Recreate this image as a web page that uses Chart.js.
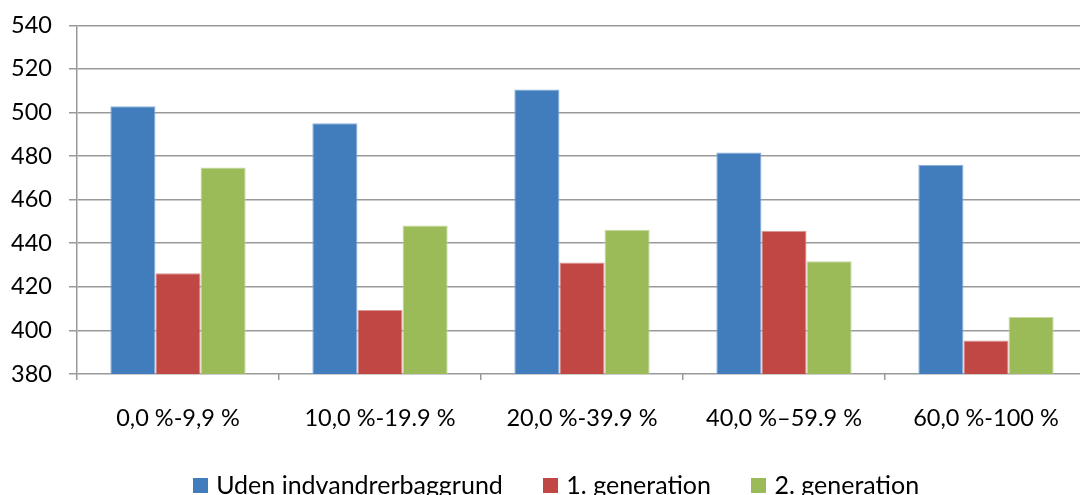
<!DOCTYPE html>
<html>
<head>
<meta charset="utf-8">
<script src="https://cdn.jsdelivr.net/npm/chart.js@4/dist/chart.umd.min.js"></script>
<style>
html,body{margin:0;padding:0;overflow:hidden;background:#fff;}
#wrap{position:absolute;left:0;top:0;width:1087px;height:508px;}
</style>
</head>
<body>
<div id="wrap"><canvas id="c"></canvas></div>
<script>
const categories = ['0,0 %-9,9 %', '10,0 %-19.9 %', '20,0 %-39.9 %', '40,0 %\u201359.9 %', '60,0 %-100 %'];
const seriesNames = ['Uden indvandrerbaggrund', '1. generation', '2. generation'];
const udenValues = [502.9, 495.1, 510.5, 481.6, 476.0];
const gen1Values = [426.2, 409.4, 431.2, 445.7, 395.4];
const gen2Values = [474.7, 448.1, 446.2, 431.7, 406.1];
const yMin = 380, yMax = 540, yStep = 20;

const colors = ['#417CBC', '#C04744', '#9BBB59'];
const borders = ['#8DAFD9', '#D99A98', '#C6D9A0'];
const tickFont = {family: 'Lato', size: 23.5};
const legendFont = {family: 'Lato', size: 25};

function swatch(color) {
  const c = document.createElement('canvas');
  c.width = 15; c.height = 15;
  const g = c.getContext('2d');
  g.fillStyle = color; g.fillRect(0, 0, 15, 15);
  return c;
}

// let the y tick labels draw left of the layout padding (no clipping)
const unclipY = {
  id: 'unclipY',
  afterLayout(chart) { chart.scales.y.left = 0; }
};

new Chart(document.getElementById('c'), {
  type: 'bar',
  plugins: [unclipY],
  data: {
    labels: categories,
    datasets: [udenValues, gen1Values, gen2Values].map((d, i) => ({
      label: seriesNames[i],
      data: d,
      backgroundColor: colors[i],
      borderColor: borders[i],
      borderWidth: 1,
      pointStyle: swatch(colors[i]),
      categoryPercentage: 0.67,
      barPercentage: 1.0
    }))
  },
  options: {
    responsive: true,
    maintainAspectRatio: false,
    animation: false,
    layout: {padding: {top: 25.3, left: 28.8, right: 0, bottom: 0}},
    plugins: {
      tooltip: {enabled: false},
      legend: {
        position: 'bottom',
        labels: {
          color: '#000',
          font: legendFont,
          usePointStyle: true,
          pointStyleWidth: 7,
          boxHeight: 15,
          padding: 44
        }
      }
    },
    scales: {
      x: {
        offset: true,
        afterFit: s => { s.height = 55; s.paddingLeft = 0; s.paddingRight = 0; },
        grid: {display: true, drawOnChartArea: false, drawTicks: true, tickLength: 6, color: '#999', lineWidth: 1.5, offset: true},
        border: {display: false},
        ticks: {color: '#000', font: tickFont, padding: 24, maxRotation: 0}
      },
      y: {
        min: yMin, max: yMax,
        afterFit: s => { s.width = 48.2; s.paddingTop = 0; s.paddingBottom = 0; },
        grid: {color: '#999', lineWidth: 1.5, tickLength: 8, drawTicks: true},
        border: {display: true, color: '#999', width: 1.5},
        ticks: {stepSize: yStep, color: '#000', font: tickFont, padding: 17}
      }
    }
  }
});
</script>
</body>
</html>
